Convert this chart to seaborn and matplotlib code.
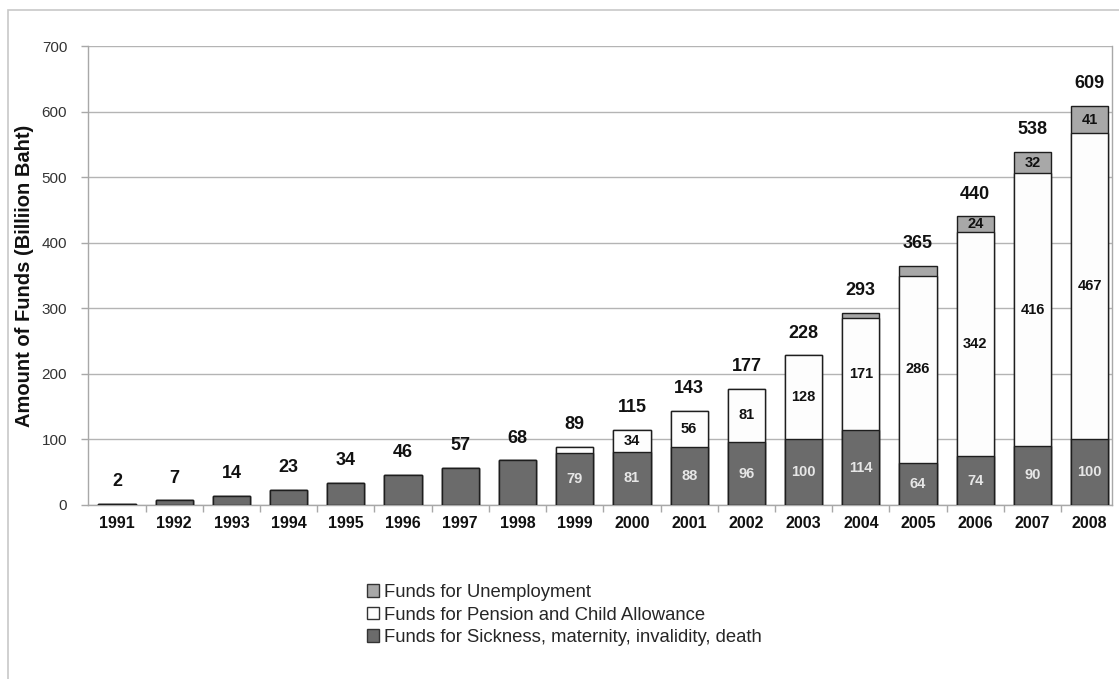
import matplotlib
matplotlib.use("Agg")
import matplotlib.pyplot as plt
from matplotlib.patches import Patch, Rectangle
from matplotlib.ticker import FixedLocator
import numpy as np
import pandas as pd
import seaborn as sns

# ---- data (billion baht) ----
years = [str(y) for y in range(1991, 2009)]
sickness = [2, 7, 14, 23, 34, 46, 57, 68, 79, 81, 88, 96, 100, 114, 64, 74, 90, 100]
pension = [0, 0, 0, 0, 0, 0, 0, 0, 10, 34, 56, 81, 128, 171, 286, 342, 416, 467]
unemployment = [0, 0, 0, 0, 0, 0, 0, 0, 0, 0, 0, 0, 0, 8, 15, 24, 32, 41]
totals = [2, 7, 14, 23, 34, 46, 57, 68, 89, 115, 143, 177, 228, 293, 365, 440, 538, 609]

series_names = [
    "Funds for Unemployment",
    "Funds for Pension and Child Allowance",
    "Funds for Sickness, maternity, invalidity, death",
]
y_label = "Amount of Funds (Billiion Baht)"

sns.set_theme(style="white")
plt.rcParams["font.family"] = ["Liberation Sans", "DejaVu Sans"]

df = pd.DataFrame({
    "year": years,
    "sickness": sickness,
    "sick_pension": np.array(sickness) + np.array(pension),
    "total": totals,
})

fig = plt.figure(figsize=(11.19, 6.79), dpi=100)
ax = fig.add_axes([88 / 1119, 1 - 505 / 679, (1112 - 88) / 1119, (505 - 46) / 679])

c_sick = "#6b6b6b"
c_unemp = "#a8a8a8"
c_pens = "#fdfdfd"
edge = "#1e1e1e"
bw = 0.65

# layered bars: total (unemployment on top), sickness + pension, sickness
for col, colour in [("total", c_unemp), ("sick_pension", c_pens), ("sickness", c_sick)]:
    sns.barplot(data=df, x="year", y=col, order=years, color=colour, saturation=1,
                width=bw, edgecolor=edge, linewidth=1.0, ax=ax, zorder=3)

ax.set_xlim(-0.507, 17.39)
ax.set_ylim(0, 700)
ax.yaxis.set_major_locator(FixedLocator(range(0, 701, 100)))
ax.yaxis.grid(True, color="#b4b4b4", linewidth=1.0)
ax.xaxis.grid(False)
ax.set_axisbelow(True)

for side in ["left", "bottom", "right"]:
    ax.spines[side].set_visible(True)
    ax.spines[side].set_color("#a8a8a8")
    ax.spines[side].set_linewidth(1.0)
ax.spines["top"].set_visible(False)

ax.set_xlabel("")
ax.set_ylabel(y_label, fontsize=14.5, fontweight="bold", color="#111111")
ax.yaxis.set_label_coords(-54 / 1024, 0.5)

ax.tick_params(axis="y", length=5, width=1, color="#a8a8a8", pad=10, labelsize=11,
               labelcolor="#333333", left=True)
ax.tick_params(axis="x", length=0, pad=8)
ax.set_xticks(range(len(years)))
ax.set_xticklabels(years, fontsize=11.5, fontweight="bold", color="#111111")
ax.set_xticks(np.arange(len(years) - 1) + 0.5, minor=True)
ax.tick_params(axis="x", which="minor", length=5, width=1, color="#a8a8a8", bottom=True)

tot_fs = 13
in_fs = 10.5
for i in range(len(years)):
    ax.annotate(str(totals[i]), (i, totals[i]), xytext=(0, 10), textcoords="offset points",
                ha="center", va="bottom", fontsize=tot_fs, fontweight="bold",
                color="#111111", zorder=5)
    if pension[i] > 0:
        ax.text(i, sickness[i] / 2, str(sickness[i]), ha="center", va="center",
                fontsize=in_fs, fontweight="bold", color="#e6e6e6", zorder=5)
    if pension[i] >= 20:
        ax.text(i, sickness[i] + pension[i] / 2, str(pension[i]), ha="center", va="center",
                fontsize=in_fs, fontweight="bold", color="#111111", zorder=5)
    if unemployment[i] >= 20:
        ax.text(i, sickness[i] + pension[i] + unemployment[i] / 2, str(unemployment[i]),
                ha="center", va="center", fontsize=in_fs, fontweight="bold",
                color="#111111", zorder=5)

handles = [
    Patch(facecolor=c_unemp, edgecolor="#333333", linewidth=1.0),
    Patch(facecolor=c_pens, edgecolor="#333333", linewidth=1.0),
    Patch(facecolor=c_sick, edgecolor="#333333", linewidth=1.0),
]
fig.legend(handles, series_names, loc="upper left", bbox_to_anchor=(367 / 1119, 1 - 584 / 679),
           frameon=False, fontsize=13.3, handlelength=0.65, handleheight=0.65,
           handletextpad=0.25, labelspacing=0.3, borderaxespad=0, borderpad=0)

# light outer frame
fig.add_artist(Rectangle((8 / 1119, -0.05), 1.1, 1 - 10 / 679 + 0.05, transform=fig.transFigure,
                         fill=False, edgecolor="#c8c8c8", linewidth=1.2))

fig.savefig("out.png", dpi=100, facecolor="white")
